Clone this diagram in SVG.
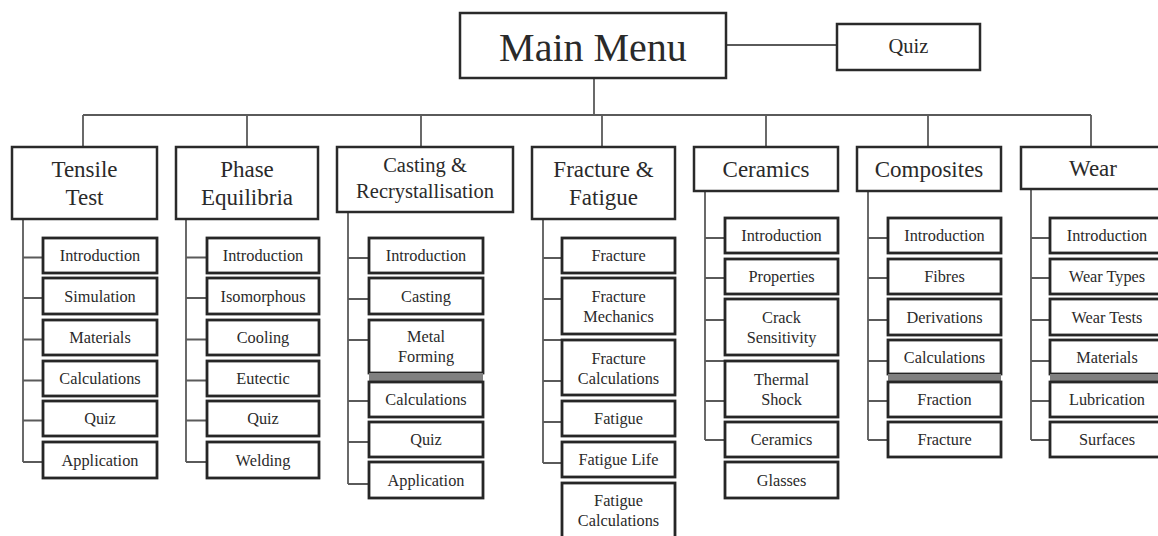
<svg xmlns="http://www.w3.org/2000/svg" width="1158" height="536" viewBox="0 0 1158 536">
<style>
text{font-family:"Liberation Serif","Times New Roman",serif;fill:#2a2a2a;text-anchor:middle}
.top{fill:#fff;stroke:#2a2a2a;stroke-width:2.5}
.cat{fill:#fff;stroke:#2a2a2a;stroke-width:2.5}
.sub{fill:#fff;stroke:#262626;stroke-width:2.8}
.band{fill:#808080;stroke:none}
.ln{stroke:#5a5a5a;stroke-width:1.8;fill:none}
.t40{font-size:40px}
.t23{font-size:23px}
.t20{font-size:20.5px}
.t16{font-size:16.3px}
</style>
<rect width="1158" height="536" fill="#fff"/>
<g id="connectors">
<path class="ln" d="M726 45H837 M594 78V115 M83 115H1091 M83 115V147 M247 115V147 M421 115V147 M602 115V147 M766 115V147 M928 115V147 M1091 115V147"/>
<path class="ln" d="M23 219V462 M23 257.5H43 M23 298H43 M23 339.5H43 M23 380.5H43 M23 420.5H43 M23 462H43"/>
<path class="ln" d="M186 219V462 M186 257.5H207 M186 298H207 M186 339.5H207 M186 380.5H207 M186 420.5H207 M186 462H207"/>
<path class="ln" d="M348 212V484 M348 258H369 M348 299H369 M348 340H369 M348 401H369 M348 442H369 M348 484H369"/>
<path class="ln" d="M543 219V463 M543 258H562 M543 299H562 M543 340H562 M543 381H562 M543 422H562 M543 463H562"/>
<path class="ln" d="M705 191V440 M705 238H725 M705 278H725 M705 320H725 M705 361H725 M705 401H725 M705 440H725"/>
<path class="ln" d="M868 191V440 M868 238H888 M868 278H888 M868 320H888 M868 361H888 M868 401H888 M868 440H888"/>
<path class="ln" d="M1031 189V440 M1031 238H1050 M1031 278H1050 M1031 320H1050 M1031 361H1050 M1031 401H1050 M1031 440H1050"/>
</g>
<g id="main-menu"><rect class="top" x="460" y="13" width="266" height="65"/><text class="t40" x="593" y="61">Main Menu</text></g>
<g id="quiz-top"><rect class="cat" x="837" y="24" width="143" height="46"/><text class="t20" x="908.5" y="53">Quiz</text></g>

<g id="tensile-test"><rect class="cat" x="12" y="147" width="145" height="72"/><text class="t23" x="84.5" y="177">Tensile</text><text class="t23" x="84.5" y="205">Test</text></g>
<g id="tensile-introduction"><rect class="sub" x="43" y="238" width="114" height="35"/><text class="t16" x="100" y="261">Introduction</text></g>
<g id="tensile-simulation"><rect class="sub" x="43" y="278" width="114" height="36"/><text class="t16" x="100" y="301.5">Simulation</text></g>
<g id="tensile-materials"><rect class="sub" x="43" y="320" width="114" height="35"/><text class="t16" x="100" y="343">Materials</text></g>
<g id="tensile-calculations"><rect class="sub" x="43" y="361" width="114" height="35"/><text class="t16" x="100" y="384">Calculations</text></g>
<g id="tensile-quiz"><rect class="sub" x="43" y="401" width="114" height="35"/><text class="t16" x="100" y="424">Quiz</text></g>
<g id="tensile-application"><rect class="sub" x="43" y="442" width="114" height="36"/><text class="t16" x="100" y="465.5">Application</text></g>

<g id="phase-equilibria"><rect class="cat" x="176" y="147" width="142" height="72"/><text class="t23" x="247" y="177">Phase</text><text class="t23" x="247" y="205">Equilibria</text></g>
<g id="phase-introduction"><rect class="sub" x="207" y="238" width="112" height="35"/><text class="t16" x="263" y="261">Introduction</text></g>
<g id="phase-isomorphous"><rect class="sub" x="207" y="278" width="112" height="36"/><text class="t16" x="263" y="301.5">Isomorphous</text></g>
<g id="phase-cooling"><rect class="sub" x="207" y="320" width="112" height="35"/><text class="t16" x="263" y="343">Cooling</text></g>
<g id="phase-eutectic"><rect class="sub" x="207" y="361" width="112" height="35"/><text class="t16" x="263" y="384">Eutectic</text></g>
<g id="phase-quiz"><rect class="sub" x="207" y="401" width="112" height="35"/><text class="t16" x="263" y="424">Quiz</text></g>
<g id="phase-welding"><rect class="sub" x="207" y="442" width="112" height="36"/><text class="t16" x="263" y="465.5">Welding</text></g>

<g id="casting"><rect class="cat" x="337" y="147" width="176" height="65"/><text class="t20" x="425" y="172">Casting &amp;</text><text class="t20" x="425" y="198">Recrystallisation</text></g>
<g id="casting-introduction"><rect class="sub" x="369" y="238" width="114" height="35"/><text class="t16" x="426" y="261">Introduction</text></g>
<g id="casting-casting"><rect class="sub" x="369" y="278" width="114" height="36"/><text class="t16" x="426" y="301.5">Casting</text></g>
<g id="casting-metal-forming"><rect class="sub" x="369" y="320" width="114" height="53"/><text class="t16" x="426" y="342">Metal</text><text class="t16" x="426" y="362">Forming</text></g>
<rect class="band" x="369" y="373" width="114" height="9"/>
<g id="casting-calculations"><rect class="sub" x="369" y="382" width="114" height="35"/><text class="t16" x="426" y="405">Calculations</text></g>
<g id="casting-quiz"><rect class="sub" x="369" y="422" width="114" height="35"/><text class="t16" x="426" y="445">Quiz</text></g>
<g id="casting-application"><rect class="sub" x="369" y="462" width="114" height="36"/><text class="t16" x="426" y="485.5">Application</text></g>

<g id="fracture-fatigue"><rect class="cat" x="532" y="147" width="143" height="72"/><text class="t23" x="603.5" y="177">Fracture &amp;</text><text class="t23" x="603.5" y="205">Fatigue</text></g>
<g id="fracture-fracture"><rect class="sub" x="562" y="238" width="113" height="35"/><text class="t16" x="618.5" y="261">Fracture</text></g>
<g id="fracture-mechanics"><rect class="sub" x="562" y="278" width="113" height="56"/><text class="t16" x="618.5" y="302">Fracture</text><text class="t16" x="618.5" y="322">Mechanics</text></g>
<g id="fracture-calculations"><rect class="sub" x="562" y="340" width="113" height="55"/><text class="t16" x="618.5" y="363.5">Fracture</text><text class="t16" x="618.5" y="383.5">Calculations</text></g>
<g id="fatigue"><rect class="sub" x="562" y="401" width="113" height="35"/><text class="t16" x="618.5" y="424">Fatigue</text></g>
<g id="fatigue-life"><rect class="sub" x="562" y="442" width="113" height="35"/><text class="t16" x="618.5" y="465">Fatigue Life</text></g>
<g id="fatigue-calculations"><rect class="sub" x="562" y="483" width="113" height="56"/><text class="t16" x="618.5" y="506">Fatigue</text><text class="t16" x="618.5" y="526">Calculations</text></g>

<g id="ceramics"><rect class="cat" x="694" y="147" width="144" height="44"/><text class="t23" x="766" y="177">Ceramics</text></g>
<g id="ceramics-introduction"><rect class="sub" x="725" y="218" width="113" height="35"/><text class="t16" x="781.5" y="241">Introduction</text></g>
<g id="ceramics-properties"><rect class="sub" x="725" y="259" width="113" height="35"/><text class="t16" x="781.5" y="282">Properties</text></g>
<g id="ceramics-crack"><rect class="sub" x="725" y="299" width="113" height="56"/><text class="t16" x="781.5" y="323">Crack</text><text class="t16" x="781.5" y="343">Sensitivity</text></g>
<g id="ceramics-thermal"><rect class="sub" x="725" y="361" width="113" height="56"/><text class="t16" x="781.5" y="385">Thermal</text><text class="t16" x="781.5" y="405">Shock</text></g>
<g id="ceramics-ceramics"><rect class="sub" x="725" y="422" width="113" height="35"/><text class="t16" x="781.5" y="445">Ceramics</text></g>
<g id="ceramics-glasses"><rect class="sub" x="725" y="462" width="113" height="36"/><text class="t16" x="781.5" y="485.5">Glasses</text></g>

<g id="composites"><rect class="cat" x="857" y="147" width="144" height="44"/><text class="t23" x="929" y="177">Composites</text></g>
<g id="composites-introduction"><rect class="sub" x="888" y="218" width="113" height="35"/><text class="t16" x="944.5" y="241">Introduction</text></g>
<g id="composites-fibres"><rect class="sub" x="888" y="259" width="113" height="35"/><text class="t16" x="944.5" y="282">Fibres</text></g>
<g id="composites-derivations"><rect class="sub" x="888" y="299" width="113" height="36"/><text class="t16" x="944.5" y="322.5">Derivations</text></g>
<g id="composites-calculations"><rect class="sub" x="888" y="340" width="113" height="34"/><text class="t16" x="944.5" y="362.5">Calculations</text></g>
<rect class="band" x="888" y="374" width="113" height="8"/>
<g id="composites-fraction"><rect class="sub" x="888" y="382" width="113" height="35"/><text class="t16" x="944.5" y="405">Fraction</text></g>
<g id="composites-fracture"><rect class="sub" x="888" y="422" width="113" height="35"/><text class="t16" x="944.5" y="445">Fracture</text></g>

<g id="wear"><rect class="cat" x="1021" y="147" width="145" height="42"/><text class="t23" x="1093" y="176">Wear</text></g>
<g id="wear-introduction"><rect class="sub" x="1050" y="218" width="114" height="35"/><text class="t16" x="1107" y="241">Introduction</text></g>
<g id="wear-types"><rect class="sub" x="1050" y="259" width="114" height="35"/><text class="t16" x="1107" y="282">Wear Types</text></g>
<g id="wear-tests"><rect class="sub" x="1050" y="299" width="114" height="36"/><text class="t16" x="1107" y="322.5">Wear Tests</text></g>
<g id="wear-materials"><rect class="sub" x="1050" y="340" width="114" height="34"/><text class="t16" x="1107" y="362.5">Materials</text></g>
<rect class="band" x="1050" y="374" width="114" height="8"/>
<g id="wear-lubrication"><rect class="sub" x="1050" y="382" width="114" height="35"/><text class="t16" x="1107" y="405">Lubrication</text></g>
<g id="wear-surfaces"><rect class="sub" x="1050" y="422" width="114" height="35"/><text class="t16" x="1107" y="445">Surfaces</text></g>
</svg>
